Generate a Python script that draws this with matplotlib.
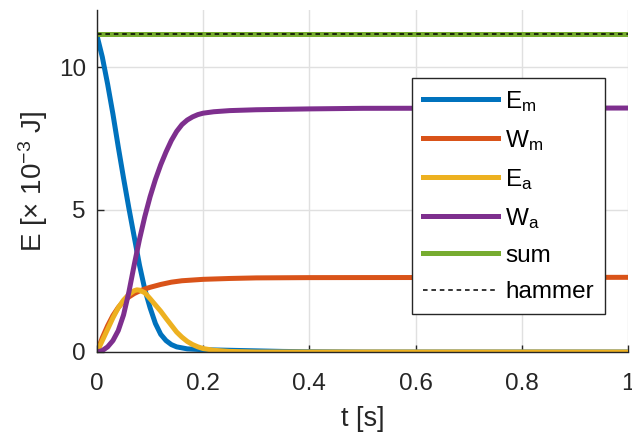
import matplotlib
matplotlib.use("Agg")
import matplotlib.pyplot as plt

# MATLAB default line colors
C_EM = (0.0, 0.447, 0.741)
C_WM = (0.850, 0.325, 0.098)
C_EA = (0.929, 0.694, 0.125)
C_WA = (0.494, 0.184, 0.556)
C_SUM = (0.466, 0.674, 0.188)
AX_COL = (0.15, 0.15, 0.15)

# energies in 1e-3 J
t_em = [0, 0.01, 0.02, 0.03, 0.04, 0.05, 0.06, 0.07, 0.08, 0.09, 0.10, 0.11, 0.12,
        0.13, 0.14, 0.15, 0.17, 0.20, 0.25, 0.30, 0.35, 0.40, 0.50, 1.0]
e_m = [11.1, 10.35, 9.4, 8.35, 7.2, 6.1, 5.05, 4.05, 3.05, 2.2, 1.55, 1.0, 0.62,
       0.4, 0.26, 0.18, 0.11, 0.08, 0.06, 0.04, 0.02, 0.01, 0.0, 0.0]

t_wm = [0, 0.01, 0.02, 0.03, 0.04, 0.05, 0.06, 0.07, 0.08, 0.09, 0.10, 0.12, 0.14,
        0.16, 0.20, 0.25, 0.30, 0.40, 1.0]
w_m = [0, 0.5, 0.92, 1.28, 1.56, 1.78, 1.93, 2.05, 2.14, 2.21, 2.27, 2.37, 2.45,
       2.5, 2.55, 2.58, 2.6, 2.61, 2.62]

t_ea = [0, 0.01, 0.02, 0.03, 0.04, 0.05, 0.06, 0.07, 0.075, 0.08, 0.09, 0.10, 0.11,
        0.12, 0.13, 0.14, 0.15, 0.16, 0.17, 0.18, 0.19, 0.20, 0.22, 0.25, 0.30, 1.0]
e_a = [0, 0.4, 0.8, 1.2, 1.55, 1.82, 2.02, 2.15, 2.18, 2.17, 2.08, 1.87, 1.65,
       1.43, 1.18, 0.94, 0.7, 0.52, 0.37, 0.26, 0.18, 0.12, 0.06, 0.02, 0.0, 0.0]

t_wa = [0, 0.01, 0.02, 0.03, 0.04, 0.05, 0.06, 0.07, 0.08, 0.09, 0.10, 0.11, 0.12,
        0.13, 0.14, 0.15, 0.16, 0.17, 0.18, 0.19, 0.20, 0.22, 0.25, 0.30, 0.40, 0.50, 1.0]
w_a = [0, 0.05, 0.18, 0.4, 0.75, 1.3, 2.1, 3.05, 3.95, 4.75, 5.45, 6.05, 6.57,
       7.02, 7.42, 7.74, 7.98, 8.14, 8.25, 8.33, 8.38, 8.43, 8.47, 8.5, 8.53, 8.55, 8.56]

t_sum = [0, 1.0]
e_sum = [11.15, 11.15]
e_hammer = [11.15, 11.15]

plt.rcParams["font.family"] = ["Liberation Sans", "DejaVu Sans"]
plt.rcParams["mathtext.fontset"] = "custom"
plt.rcParams["mathtext.rm"] = "Liberation Sans"
plt.rcParams["mathtext.default"] = "regular"

fig = plt.figure(figsize=(6.32, 4.32), dpi=100)
ax = fig.add_axes([97 / 632, 80 / 432, 531 / 632, 342 / 432])

lw = 3.6
ax.plot(t_em, e_m, color=C_EM, lw=lw, label="E$_m$")
ax.plot(t_wm, w_m, color=C_WM, lw=lw, label="W$_m$")
ax.plot(t_ea, e_a, color=C_EA, lw=lw, label="E$_a$")
ax.plot(t_wa, w_a, color=C_WA, lw=lw, label="W$_a$")
ax.plot(t_sum, e_sum, color=C_SUM, lw=lw, label="sum")
ax.plot(t_sum, e_hammer, color="k", lw=1.1, ls=(0, (3, 2.5)), label="hammer")

ax.set_xlim(0, 1)
ax.set_ylim(0, 12)
ax.set_xticks([0, 0.2, 0.4, 0.6, 0.8, 1])
ax.set_xticklabels(["0", "0.2", "0.4", "0.6", "0.8", "1"])
ax.set_yticks([0, 5, 10])
ax.grid(True, color=(0.88, 0.88, 0.88), lw=1.0)
ax.set_axisbelow(True)
for s in ("top", "right"):
    ax.spines[s].set_visible(False)
for s in ("left", "bottom"):
    ax.spines[s].set_color(AX_COL)
    ax.spines[s].set_linewidth(1.0)
ax.tick_params(direction="in", length=5, width=1.0, colors=AX_COL, labelsize=17.5)
ax.tick_params(axis="x", pad=15)
ax.tick_params(axis="y", pad=8)

ax.set_xlabel("t [s]", fontsize=19.5, color=AX_COL, labelpad=8)
ax.set_ylabel("E [× 10$^{-3}$ J]", fontsize=20, color=AX_COL, labelpad=6)

leg = ax.legend(loc="upper left", bbox_to_anchor=(0.593, 0.801), borderaxespad=0,
                fontsize=17.5, handlelength=3.1, handletextpad=0.3, labelspacing=0.58,
                borderpad=0.45, fancybox=False, framealpha=1, edgecolor=AX_COL)
leg.get_frame().set_linewidth(1.0)

fig.savefig("out.png", dpi=100)
